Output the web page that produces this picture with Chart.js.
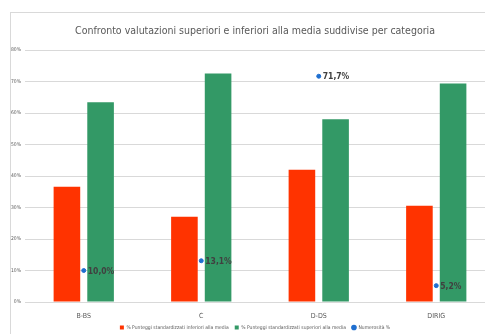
<!DOCTYPE html>
<html lang="it">
<head>
    <meta charset="UTF-8">
    <title>Confronto valutazioni</title>
    <script src="https://cdn.jsdelivr.net/npm/chart.js"></script>
    <style>
        html, body { margin: 0; padding: 0; overflow: hidden; background: #fff; }
        #wrap { position: absolute; left: 0; top: 0; width: 500px; height: 342px; }
        #frame { position: absolute; left: 10px; top: 12px; width: 600px; height: 400px;
                 border: 1px solid #d9d9d9; pointer-events: none; }
    </style>
</head>
<body>
    <div id="wrap"><canvas id="chart" width="500" height="342"></canvas></div>
    <div id="frame"></div>

    <script>
        // Categories and series (values in %)
        const categories = ['B-BS', 'C', 'D-DS', 'DIRIG'];
        const inferiori = [36.6, 27.1, 42.0, 30.6];
        const superiori = [63.4, 72.6, 58.0, 69.4];
        const numerosita = [10.0, 13.1, 71.7, 5.2];
        const yTicks = [0, 10, 20, 30, 40, 50, 60, 70, 80];

        const FONT = '"Liberation Sans Narrow", "DejaVu Sans Condensed", sans-serif';

        // draws "10,0%" style labels next to the blue points
        const pointLabels = {
            id: 'pointLabels',
            afterDatasetsDraw(chart) {
                const ctx = chart.ctx;
                const meta = chart.getDatasetMeta(2);
                ctx.save();
                ctx.font = 'bold 8.5px ' + FONT;
                ctx.fillStyle = '#404040';
                ctx.textAlign = 'left';
                ctx.textBaseline = 'middle';
                meta.data.forEach((pt, i) => {
                    const txt = numerosita[i].toFixed(1).replace('.', ',') + '%';
                    ctx.fillText(txt, pt.x + 4, pt.y + 1);
                });
                ctx.restore();
            }
        };

        const ctx = document.getElementById('chart').getContext('2d');
        new Chart(ctx, {
            type: 'bar',
            data: {
                labels: categories,
                datasets: [
                    {
                        label: '% Punteggi standardizzati inferiori alla media',
                        data: inferiori,
                        backgroundColor: '#ff3300',
                        categoryPercentage: 0.573,
                        barPercentage: 0.79,
                        order: 2
                    },
                    {
                        label: '% Punteggi standardizzati superiori alla media',
                        data: superiori,
                        backgroundColor: '#339966',
                        categoryPercentage: 0.573,
                        barPercentage: 0.79,
                        order: 2
                    },
                    {
                        type: 'line',
                        label: 'Numerosità %',
                        data: numerosita,
                        showLine: false,
                        pointStyle: 'circle',
                        pointRadius: 2,
                        backgroundColor: '#1f6fd0',
                        borderColor: '#1f6fd0',
                        order: 1
                    }
                ]
            },
            options: {
                responsive: false,
                animation: false,
                layout: { padding: { left: 10, right: 0, top: 0, bottom: 2 } },
                plugins: {
                    title: {
                        display: true,
                        text: 'Confronto valutazioni superiori e inferiori alla media suddivise per categoria',
                        color: '#595959',
                        font: { family: FONT, size: 10.5, weight: 'normal' },
                        padding: { top: 25, bottom: 12.5 }
                    },
                    legend: {
                        position: 'bottom',
                        labels: {
                            color: '#595959',
                            font: { family: FONT, size: 5 },
                            boxWidth: 4,
                            boxHeight: 4,
                            padding: 6,
                            usePointStyle: true,
                            sort: (a, b) => a.datasetIndex - b.datasetIndex,
                            generateLabels(chart) {
                                const items = Chart.defaults.plugins.legend.labels.generateLabels(chart);
                                items.forEach(it => {
                                    it.pointStyle = it.datasetIndex === 2 ? 'circle' : 'rect';
                                    it.lineWidth = 0;
                                });
                                return items;
                            }
                        }
                    },
                    tooltip: { enabled: false }
                },
                scales: {
                    x: {
                        grid: { display: false },
                        border: { display: false },
                        ticks: { color: '#595959', font: { family: FONT, size: 7 }, padding: 2 },
                        afterFit(scale) { scale.height = 17; }
                    },
                    y: {
                        min: 0,
                        max: 80,
                        afterBuildTicks(scale) { scale.ticks = yTicks.map(v => ({ value: v })); },
                        grid: { color: '#d9d9d9', lineWidth: 1, drawTicks: false },
                        border: { display: false },
                        ticks: {
                            color: '#595959',
                            font: { family: FONT, size: 5 },
                            padding: 4,
                            callback: v => v + '%'
                        },
                        afterFit(scale) { scale.width = 15; }
                    }
                }
            },
            plugins: [pointLabels]
        });
    </script>
</body>
</html>
